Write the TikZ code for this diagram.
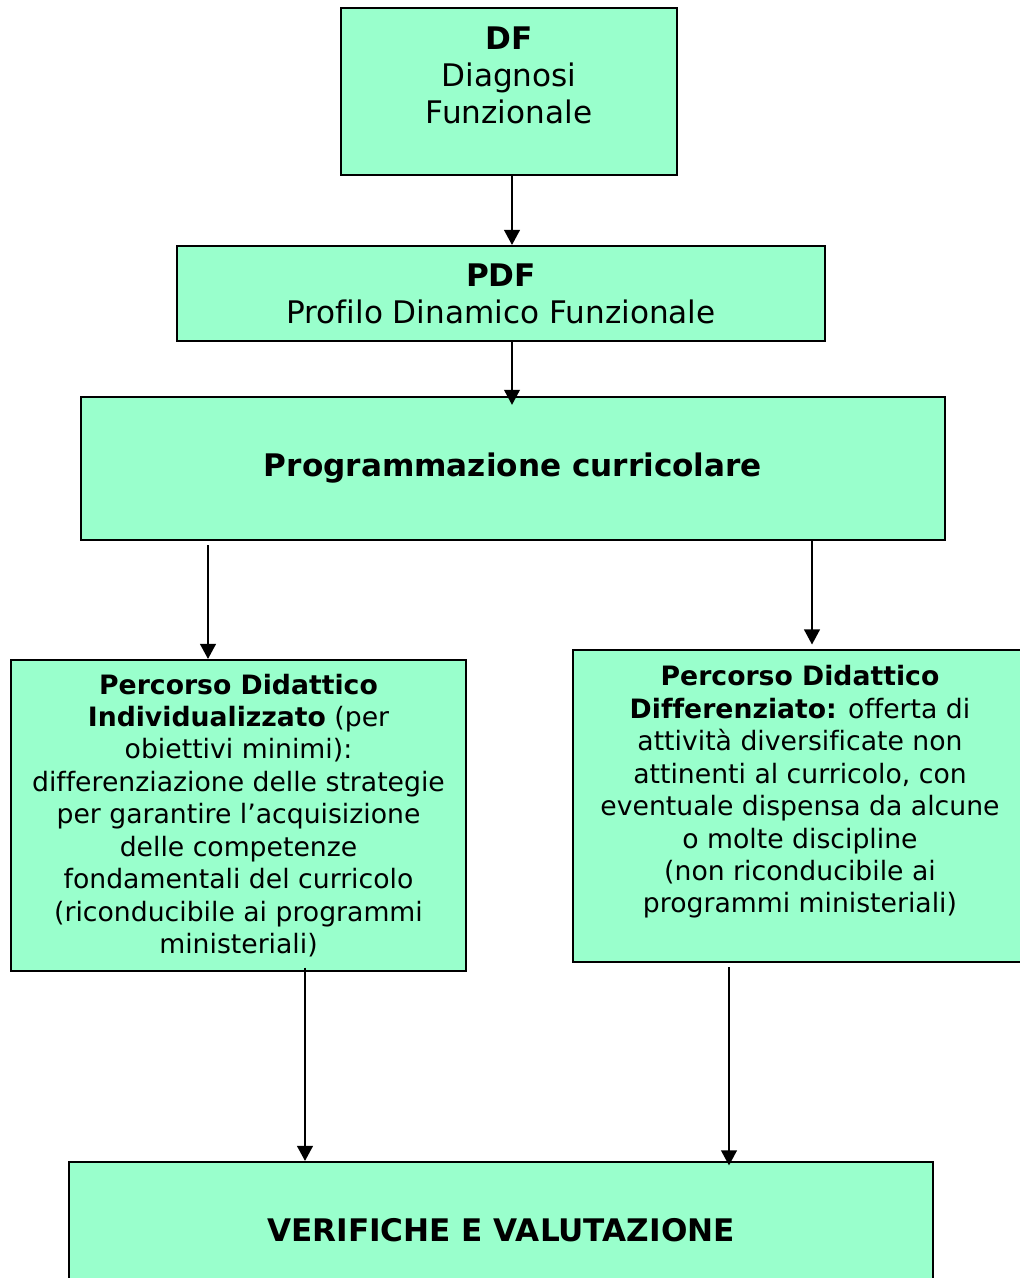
\documentclass[tikz,border=0pt]{standalone}
\usepackage{fontspec}
\setmainfont[Ligatures=CommonOff]{DejaVu Sans}
\usetikzlibrary{arrows.meta}
\definecolor{boxgreen}{HTML}{99FFCC}
\newcommand{\px}{0.45pt}

\tikzset{
  box/.style={draw=black, line width=0.9pt, fill=boxgreen, inner sep=0pt, align=center},
  bigtext/.style={font=\fontsize{14}{16.65}\selectfont, align=center},
  smalltext/.style={font=\fontsize{12}{14.6}\selectfont, align=center},
  arr/.style={line width=1.1pt, -{Triangle[length=6.8pt,width=7pt]}},
}

\begin{document}
\begin{tikzpicture}[x=0.45pt, y=-0.45pt]
  \useasboundingbox (0,0) rectangle (1020,1278);
  \clip (0,0) rectangle (1020,1278);

  % top boxes
  \node[box, minimum width=336*\px, minimum height=167*\px] (df) at (509,91.5) {};
  \node[bigtext] (df-text) at (509,75) {\textbf{DF}\\Diagnosi\\Funzionale};
  \node[box, bigtext, minimum width=648*\px, minimum height=95*\px] (pdf) at (501,293.5)
    {\textbf{PDF}\\Profilo Dinamico Funzionale};
  \node[box, bigtext, minimum width=864*\px, minimum height=143*\px] (prog) at (513,468.5)
    {\textbf{Programmazione curricolare}};

  % the two paths
  \node[box, smalltext, minimum width=455*\px, minimum height=311*\px] (indiv) at (238.5,815.5)
    {\textbf{Percorso Didattico}\\
     \textbf{Individualizzato} (per\\
     obiettivi minimi):\\
     differenziazione delle strategie\\
     per garantire l’acquisizione\\
     delle competenze\\
     fondamentali del curricolo\\
     (riconducibile ai programmi\\
     ministeriali)};
  \node[box, minimum width=454*\px, minimum height=312*\px] (diff) at (800,806) {};
  \node[smalltext] (diff-text) at (800,792)
    {\textbf{Percorso Didattico}\\
     \textbf{Differenziato:} offerta di\\
     attività diversificate non\\
     attinenti al curricolo, con\\
     eventuale dispensa da alcune\\
     o molte discipline\\
     (non riconducibile ai\\
     programmi ministeriali)};

  % bottom box
  \node[box, bigtext, minimum width=864*\px, minimum height=136*\px] (verif) at (501,1230)
    {\textbf{VERIFICHE E VALUTAZIONE}};

  % arrows
  \coordinate (c1) at (512,0);
  \coordinate (c2) at (208,0);
  \coordinate (c3) at (812,0);
  \coordinate (c4) at (305,0);
  \coordinate (c5) at (729,0);
  \draw[arr] (df.south -| c1) -- (pdf.north -| c1);
  \draw[arr] (pdf.south -| c1) -- ([yshift=-4pt]prog.north -| c1);
  \draw[arr] ([yshift=-2pt]prog.south -| c2) -- (indiv.north -| c2);
  \draw[arr] (prog.south -| c3) -- ([yshift=2pt]diff.north -| c3);
  \draw[arr] ([yshift=2pt]indiv.south -| c4) -- (verif.north -| c4);
  \draw[arr] ([yshift=-2pt]diff.south -| c5) -- ([yshift=-2pt]verif.north -| c5);
\end{tikzpicture}
\end{document}
